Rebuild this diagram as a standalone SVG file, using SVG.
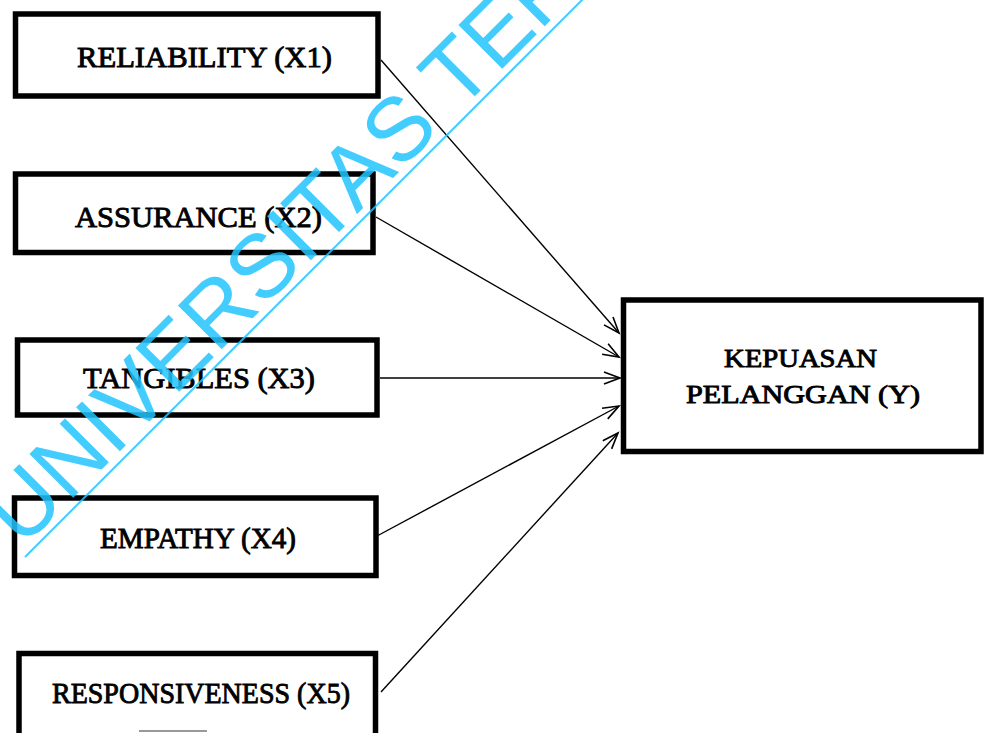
<svg xmlns="http://www.w3.org/2000/svg" width="984" height="733" viewBox="0 0 984 733">
<style>
.box{fill:#fff;stroke:#000;stroke-width:5.5}
.lbl{font-family:"Liberation Serif","Times New Roman",serif;font-size:30px;fill:#000;stroke:#000;stroke-width:0.9}
.lbly{font-size:26px}
.con{stroke:#000;stroke-width:1.4;fill:none}
.wm{font-family:"Liberation Sans",Arial,sans-serif;font-size:90px;fill:#22C4FF;fill-opacity:0.85}
</style>
<defs>
<marker id="arr" markerUnits="userSpaceOnUse" markerWidth="20" markerHeight="16" refX="17" refY="7" orient="auto">
<path d="M1,1 L17,7 L1,13" fill="none" stroke="#000" stroke-width="1.6"/>
</marker>
</defs>
<rect width="984" height="733" fill="#fff"/>
<g id="connectors">
<line class="con" x1="381" y1="60" x2="619" y2="333" marker-end="url(#arr)"/>
<line class="con" x1="376" y1="217" x2="619" y2="357" marker-end="url(#arr)"/>
<line class="con" x1="380" y1="378" x2="620" y2="378" marker-end="url(#arr)"/>
<line class="con" x1="377" y1="536" x2="619" y2="406" marker-end="url(#arr)"/>
<line class="con" x1="381" y1="692" x2="618" y2="433" marker-end="url(#arr)"/>
</g>
<g id="x1">
<rect class="box" x="15.5" y="14" width="362.5" height="82"/>
<text class="lbl" x="77" y="67" textLength="255" lengthAdjust="spacingAndGlyphs">RELIABILITY (X1)</text>
</g>
<g id="x2">
<rect class="box" x="15.5" y="174" width="357.5" height="78.5"/>
<text class="lbl" x="75" y="227" textLength="247" lengthAdjust="spacingAndGlyphs">ASSURANCE (X2)</text>
</g>
<g id="x3">
<rect class="box" x="17.5" y="340" width="359.5" height="75"/>
<text class="lbl" x="83" y="388" textLength="232" lengthAdjust="spacingAndGlyphs">TANGIBLES (X3)</text>
</g>
<g id="x4">
<rect class="box" x="14.5" y="498" width="361.5" height="77.5"/>
<text class="lbl" x="100" y="548" textLength="196" lengthAdjust="spacingAndGlyphs">EMPATHY (X4)</text>
</g>
<g id="x5">
<rect class="box" x="19" y="653.5" width="356.5" height="90"/>
<text class="lbl" x="52" y="703" textLength="298" lengthAdjust="spacingAndGlyphs">RESPONSIVENESS (X5)</text>
<line x1="139" y1="731" x2="207" y2="731" stroke="#999" stroke-width="2"/>
</g>
<g id="y">
<rect class="box" x="623.5" y="300" width="357.5" height="151.5"/>
<text class="lbl lbly" x="724" y="367" textLength="153" lengthAdjust="spacingAndGlyphs">KEPUASAN</text>
<text class="lbl lbly" x="686" y="403" textLength="234" lengthAdjust="spacingAndGlyphs">PELANGGAN (Y)</text>
</g>
<g id="watermark">
<text class="wm" x="22" y="549" transform="rotate(-45 22 549)">UNIVERSITAS TER</text>
<line x1="25" y1="557" x2="600" y2="-18" stroke="#22C4FF" stroke-opacity="0.85" stroke-width="2"/>
</g>
</svg>
